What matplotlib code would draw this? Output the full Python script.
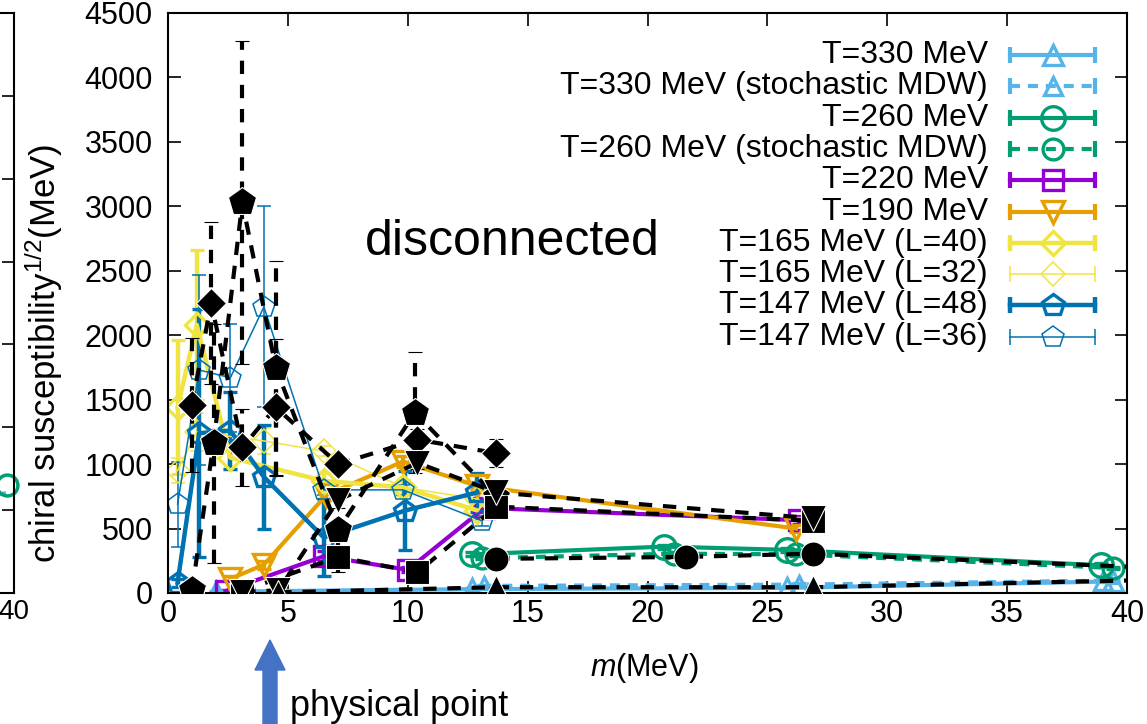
import matplotlib
matplotlib.use('Agg')
import matplotlib.pyplot as plt
from matplotlib.patches import FancyArrow

plt.rcParams['font.family'] = ['Liberation Sans', 'DejaVu Sans']
plt.rcParams['mathtext.fontset'] = 'custom'
plt.rcParams['mathtext.rm'] = 'Liberation Sans'
plt.rcParams['mathtext.it'] = 'Liberation Sans:italic'

# -------------------------------
# data (m in MeV, sqrt(chi) in MeV)
# -------------------------------
m_330 = [2.0, 12.7, 25.8, 39.4]
chi_330 = [10, 30, 40, 90]
err_330 = [5, 5, 5, 10]

m_330s = [13.2, 26.3, 39.0]
chi_330s = [55, 65, 95]
err_330s = [10, 10, 10]

m_260 = [12.7, 20.7, 25.8, 38.9]
chi_260 = [300, 360, 335, 215]
err_260 = [15, 15, 15, 15]

m_260s = [13.1, 21.1, 26.2, 39.4]
chi_260s = [270, 305, 300, 195]
err_260s = [10, 10, 10, 10]

m_220 = [2.4, 6.5, 10.0, 13.2, 26.3]
chi_220 = [15, 285, 180, 660, 565]
err_220 = [10, 40, 20, 30, 30]

m_190 = [2.6, 4.0, 6.6, 9.8, 12.9, 26.2]
chi_190 = [110, 220, 760, 1020, 830, 500]
err_190 = [20, 30, 40, 40, 30, 30]

m_165a = [0.4, 1.2, 2.6, 6.5, 9.8, 12.9]
chi_165a = [1440, 2080, 1050, 870, 820, 640]
err_165a = [520, 580, 90, 60, 60, 50]

m_165b = [0.4, 1.2, 4.0, 6.5, 9.8, 12.9]
chi_165b = [950, 1250, 1180, 1100, 820, 730]
err_165b = [100, 150, 100, 40, 40, 40]

m_147a = [0.4, 1.3, 2.6, 4.0, 6.5, 9.9, 12.9]
chi_147a = [80, 1240, 1260, 900, 430, 640, 780]
err_147a = [30, 960, 300, 400, 300, 310, 150]

m_147b = [0.4, 1.3, 2.6, 4.0, 6.5, 9.8, 13.1]
chi_147b = [690, 1730, 1670, 2220, 800, 800, 560]
err_147b = [330, 740, 420, 780, 40, 40, 40]

# black filled points (no key)
m_kD = [1.0, 1.8, 3.1, 4.5, 7.1, 10.4, 13.7]
chi_kD = [1460, 2250, 1130, 1440, 1000, 1190, 1085]
err_kD = [520, 630, 300, 530, 60, 80, 110]

m_kP = [1.0, 1.9, 3.1, 4.5, 7.1, 10.3, 13.7]
chi_kP = [20, 1160, 3030, 1745, 490, 1400, 745]
err_kP = [20, 930, 1250, 830, 60, 470, 60]

m_kS = [3.1, 7.1, 10.4, 13.7, 26.9]
chi_kS = [15, 280, 160, 670, 560]
err_kS = [10, 120, 30, 40, 30]

m_kV = [3.1, 4.6, 7.1, 10.4, 13.7, 26.9]
chi_kV = [10, 20, 720, 1010, 780, 580]
err_kV = [10, 10, 60, 50, 40, 30]

m_kO = [13.7, 21.6, 26.9, 40.6]
chi_kO = [265, 280, 305, 200]
err_kO = [10, 10, 10, 10]

m_kA = [4.6, 13.7, 26.9, 40.8]
chi_kA = [5, 45, 45, 100]
err_kA = [5, 5, 5, 5]

LBLUE, GREEN, PURPLE = '#56B4E9', '#009E73', '#9400D3'
ORANGE, YELLOW, BLUE = '#E69F00', '#F0E442', '#0072B2'
DASH = (0, (2.4, 1.9))
KDASH = (0, (3.2, 2.6))

# label, x, y, err, color, marker, lw, ms, linestyle
colored = [
    ('T=330 MeV', m_330, chi_330, err_330, LBLUE, '^', 3.0, 15, '-'),
    ('T=330 MeV (stochastic MDW)', m_330s, chi_330s, err_330s, LBLUE, '^', 3.0, 13, DASH),
    ('T=260 MeV', m_260, chi_260, err_260, GREEN, 'o', 3.0, 17, '-'),
    ('T=260 MeV (stochastic MDW)', m_260s, chi_260s, err_260s, GREEN, 'o', 3.0, 15, DASH),
    ('T=220 MeV', m_220, chi_220, err_220, PURPLE, 's', 3.0, 15, '-'),
    ('T=190 MeV', m_190, chi_190, err_190, ORANGE, 'v', 3.0, 16, '-'),
    ('T=165 MeV (L=40)', m_165a, chi_165a, err_165a, YELLOW, 'D', 3.2, 12, '-'),
    ('T=165 MeV (L=32)', m_165b, chi_165b, err_165b, YELLOW, 'D', 1.1, 12, '-'),
    ('T=147 MeV (L=48)', m_147a, chi_147a, err_147a, BLUE, 'p', 3.2, 16, '-'),
    ('T=147 MeV (L=36)', m_147b, chi_147b, err_147b, BLUE, 'p', 1.1, 16, '-'),
]

black = [
    (m_kD, chi_kD, err_kD, 'D', 15),
    (m_kP, chi_kP, err_kP, 'p', 21),
    (m_kS, chi_kS, err_kS, 's', 17),
    (m_kV, chi_kV, err_kV, 'v', 19),
    (m_kO, chi_kO, err_kO, 'o', 18),
    (m_kA, chi_kA, err_kA, '^', 17),
]

fig = plt.figure(figsize=(11.47, 7.24), dpi=100)
B, H = 1 - 593 / 724, 580 / 724

# cut-off neighbour panel at the left edge
ax0 = fig.add_axes([(14 - 300) / 1147, B, 300 / 1147, H])
ax0.set_xlim(28, 40)
ax0.set_ylim(0, 7)
ax0.set_xticks([40])
ax0.set_yticks(range(8))
ax0.yaxis.tick_right()
ax0.tick_params(direction='in', length=9, width=1.2, labelsize=20, pad=4,
                labelright=False)
ax0.plot([37.5, 39.6], [1.15, 1.2], color=LBLUE, lw=3)
ax0.plot([39.7], [1.3], marker='o', ms=15, mfc='none', mec=GREEN, mew=2.5,
         clip_on=False)
for s in ax0.spines.values():
    s.set_linewidth(1.5)

ax = fig.add_axes([168 / 1147, B, 959 / 1147, H])

for label, x, y, e, c, mk, lw, ms, ls in colored:
    eb = ax.errorbar(x, y, yerr=e, color=c, lw=lw, ls=ls, marker=mk, ms=ms,
                     mfc='none', mec=c, mew=min(lw, 2.4), elinewidth=lw,
                     capsize=5, capthick=lw, zorder=2)
    if ls != '-':
        for bc in eb[2]:
            bc.set_linestyle(ls)

for x, y, e, mk, ms in black:
    eb = ax.errorbar(x, y, yerr=e, color='black', lw=3.0, ls=KDASH, marker=mk,
                     ms=ms, mfc='black', mec='white', mew=0.8, elinewidth=3.0,
                     capsize=5, capthick=3.0, zorder=3)
    for bc in eb[2]:
        bc.set_linestyle(KDASH)

ax.set_xlim(0, 40)
ax.set_ylim(0, 4500)
ax.set_xticks(range(0, 41, 5))
ax.set_yticks(range(0, 4501, 500))
ax.tick_params(direction='in', length=9, width=1.2, labelsize=22,
               top=True, right=True)
ax.tick_params(axis='x', pad=4)
ax.tick_params(axis='y', pad=11)
for s in ax.spines.values():
    s.set_linewidth(1.5)

ax.set_ylabel(r'chiral susceptibility$^{1/2}$(MeV)', fontsize=25)
ax.yaxis.set_label_coords(-0.107, 0.414)
ax.text(0.497, -0.13, r'$m$(MeV)', transform=ax.transAxes, fontsize=22,
        ha='center', va='center')
ax.text(0.205, 0.605, 'disconnected', transform=ax.transAxes, fontsize=36,
        ha='left', va='center')

# key, drawn gnuplot-style: text on the left, sample with caps on the right
x_txt, x0, x1 = (988 - 168) / 959, (1010 - 168) / 959, (1095 - 168) / 959
for i, (label, x, y, e, c, mk, lw, ms, ls) in enumerate(colored):
    yy = (593 - (55 + 31.3 * i)) / 580
    ax.text(x_txt, yy, label, transform=ax.transAxes, fontsize=23,
            ha='right', va='center')
    ax.plot([x0, x1], [yy, yy], transform=ax.transAxes, color=c, lw=lw,
            ls=ls, clip_on=False)
    ax.plot([x0, x1], [yy, yy], transform=ax.transAxes, color=c, ls='none',
            marker='|', ms=11, mew=lw, clip_on=False)
    ax.plot([(x0 + x1) / 2], [yy], transform=ax.transAxes, color=c, ls='none',
            marker=mk, ms=ms, mfc='none', mec=c, mew=min(lw, 2.4),
            clip_on=False)

# physical point arrow
fig.add_artist(FancyArrow(2.70, 0.0, 0, 0.84, width=0.14, head_width=0.30,
                          head_length=0.30, length_includes_head=True,
                          color='#4472C4', transform=fig.dpi_scale_trans))
fig.text(290 / 1147, 1 - 707 / 724, 'physical point', fontsize=26,
         ha='left', va='center')

fig.savefig('out.png', dpi=100)
